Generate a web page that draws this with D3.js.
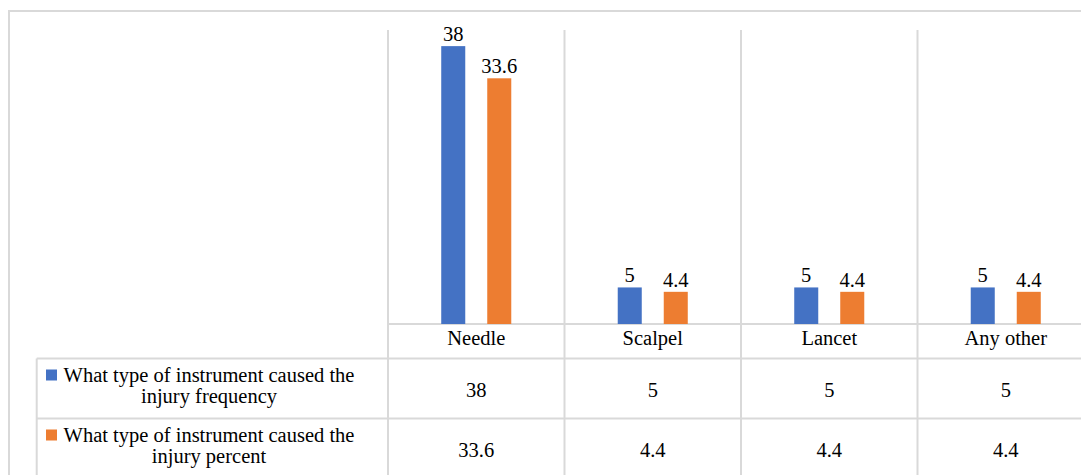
<!DOCTYPE html>
<html>
<head>
<meta charset="utf-8">
<script src="https://cdn.jsdelivr.net/npm/d3@7"></script>
<style>
  html, body { margin: 0; padding: 0; background: #fff; }
  svg { display: block; }
  svg text { font-family: 'Liberation Serif', 'Times New Roman', Times, 'DejaVu Serif', serif; fill: #000; }
</style>
</head>
<body>
<svg id="chart" width="1081" height="475" font-family="Liberation Serif, Times New Roman, serif"></svg>
<script>
const categories = ["Needle", "Scalpel", "Lancet", "Any other"];
const seriesNames = [
  ["What type of instrument caused the", "injury frequency"],
  ["What type of instrument caused the", "injury percent"]
];
const frequency = [38, 5, 5, 5];
const percent = [33.6, 4.4, 4.4, 4.4];
const seriesValues = [frequency, percent];
const seriesColors = ["#4472C4", "#ED7D31"];
const yMax = 40;

const W = 1081, H = 475;
const svg = d3.select("#chart");
const grid = "#D9D9D9";
const fontSize = "20.5px";
const serif = "'Liberation Serif', 'Times New Roman', Times, serif";

const plotLeft = 388, step = 176.5;
const plotTop = 31.5, baseY = 324;
const tableLeft = 36.7, row1 = 358.5, row2 = 418.5, row3 = 478.5;

const x0 = d3.scaleBand().domain(categories).range([plotLeft, plotLeft + step * categories.length]).padding(0);
const x1 = d3.scaleBand().domain(d3.range(seriesValues.length)).range([0, x0.bandwidth()])
  .paddingInner(0.478).paddingOuter(1.157);
const y = d3.scaleLinear().domain([0, yMax]).range([baseY, plotTop]);

svg.append("path")
  .attr("d", `M9,${H + 5} L9,11 L${W + 5},11`)
  .attr("fill", "none").attr("stroke", grid).attr("stroke-width", 2);

const sepXs = categories.map(c => x0(c)).concat([x0.range()[1]]);
svg.selectAll("line.vsep").data(sepXs).enter().append("line")
  .attr("x1", d => d).attr("x2", d => d)
  .attr("y1", 30).attr("y2", H + 5)
  .attr("stroke", grid).attr("stroke-width", 2);

svg.append("line").attr("x1", plotLeft).attr("x2", W + 5).attr("y1", baseY).attr("y2", baseY)
  .attr("stroke", grid).attr("stroke-width", 2);
[row1, row2, row3].forEach(ry => {
  svg.append("line").attr("x1", tableLeft).attr("x2", W + 5).attr("y1", ry).attr("y2", ry)
    .attr("stroke", grid).attr("stroke-width", 2);
});
svg.append("line").attr("x1", tableLeft).attr("x2", tableLeft).attr("y1", row1).attr("y2", H + 5)
  .attr("stroke", grid).attr("stroke-width", 2);

const groups = svg.selectAll("g.cat").data(categories).enter().append("g")
  .attr("transform", d => `translate(${x0(d)},0)`);
seriesValues.forEach((vals, si) => {
  groups.append("rect")
    .attr("x", x1(si))
    .attr("width", x1.bandwidth())
    .attr("y", (d, i) => y(vals[i]))
    .attr("height", (d, i) => baseY - y(vals[i]))
    .attr("fill", seriesColors[si]);
  groups.append("text")
    .attr("x", x1(si) + x1.bandwidth() / 2)
    .attr("y", (d, i) => y(vals[i]) - 5)
    .attr("text-anchor", "middle")
    .attr("font-family", serif)
    .style("font-size", fontSize)
    .text((d, i) => vals[i]);
});

const xAxis = d3.axisBottom(x0).tickSize(0).tickPadding(0);
const axisG = svg.append("g").attr("transform", `translate(0,${baseY})`).call(xAxis)
  .attr("font-family", serif).attr("font-size", null);
axisG.select(".domain").remove();
axisG.selectAll("text")
  .attr("dy", null).attr("y", 21)
  .style("font-size", fontSize)
  .style("font-family", serif)
  .attr("fill", "#000");

const rowTops = [row1, row2];
seriesValues.forEach((vals, si) => {
  const top = rowTops[si];
  const mid = top + 30;
  svg.append("rect")
    .attr("x", 46).attr("y", top + 11).attr("width", 11).attr("height", 11)
    .attr("fill", seriesColors[si]);
  const t = svg.append("text").attr("text-anchor", "middle")
    .attr("font-family", serif).style("font-size", fontSize);
  seriesNames[si].forEach((ln, li) => {
    t.append("tspan").attr("x", 209).attr("y", top + 23 + li * 21).text(ln);
  });
  svg.selectAll(null).data(categories).enter().append("text")
    .attr("x", d => x0(d) + x0.bandwidth() / 2)
    .attr("y", mid + 8)
    .attr("text-anchor", "middle")
    .attr("font-family", serif)
    .style("font-size", fontSize)
    .text((d, i) => vals[i]);
});
</script>
</body>
</html>
